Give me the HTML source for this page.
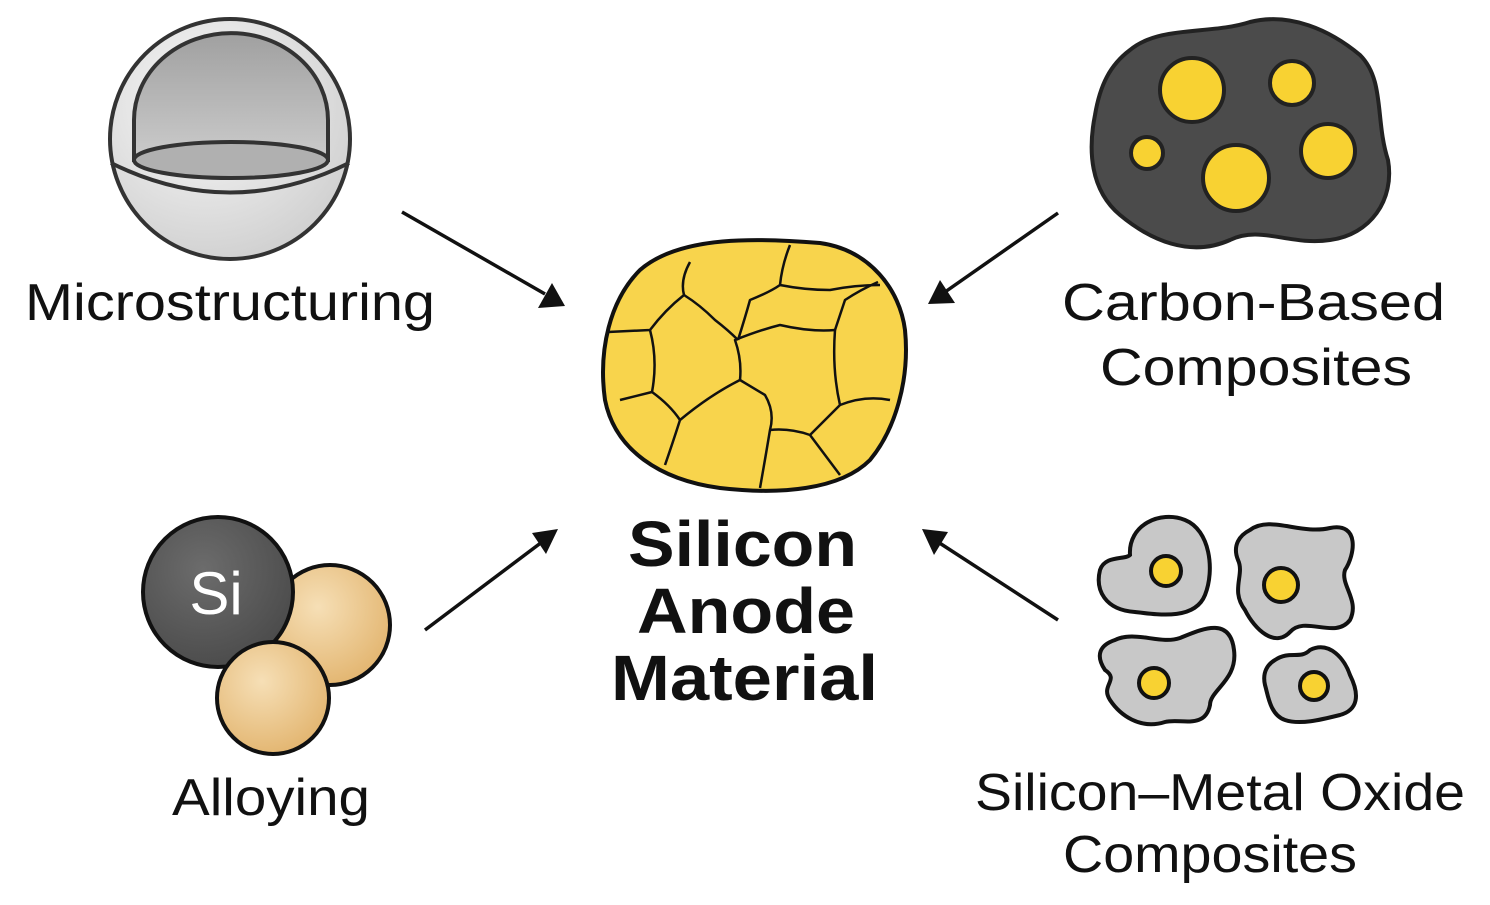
<!DOCTYPE html>
<html><head><meta charset="utf-8"><style>
html,body{margin:0;padding:0;background:#fff}
svg{display:block}
text{font-family:"Liberation Sans",sans-serif;fill:#111}
</style></head><body>
<svg width="1490" height="905" viewBox="0 0 1490 905" xmlns="http://www.w3.org/2000/svg">
<defs>
<radialGradient id="sph" cx="0.4" cy="0.35" r="0.7"><stop offset="0" stop-color="#fafafa"/><stop offset="1" stop-color="#cfcfcf"/></radialGradient>
<linearGradient id="dome" x1="0" y1="0" x2="0" y2="1"><stop offset="0" stop-color="#a0a0a0"/><stop offset="1" stop-color="#cbcbcb"/></linearGradient>
<radialGradient id="tan" cx="0.4" cy="0.35" r="0.7"><stop offset="0" stop-color="#f6dfb6"/><stop offset="1" stop-color="#e2b46e"/></radialGradient>
<radialGradient id="si" cx="0.4" cy="0.35" r="0.7"><stop offset="0" stop-color="#6c6c6c"/><stop offset="1" stop-color="#4a4a4a"/></radialGradient>
</defs>

<!-- sphere -->
<circle cx="230" cy="139" r="120" fill="url(#sph)" stroke="#333" stroke-width="4"/>
<path d="M111,163 Q230,222 349,163" fill="none" stroke="#333" stroke-width="4"/>
<path d="M134,160 L134,120 A96,86 0 0 1 328,120 L328,160 Z" fill="url(#dome)" stroke="#333" stroke-width="4"/>
<ellipse cx="231" cy="160" rx="97" ry="18" fill="#b0b0b0" stroke="#333" stroke-width="4"/>
<text x="25" y="320" font-size="52" textLength="410" lengthAdjust="spacingAndGlyphs">Microstructuring</text>

<!-- arrows -->
<g stroke="#111" stroke-width="3.5">
<line x1="402" y1="212" x2="545" y2="294"/>
<line x1="1058" y1="213" x2="945" y2="292"/>
<line x1="425" y1="630" x2="542" y2="542"/>
<line x1="1058" y1="620" x2="938" y2="542"/>
</g>
<path d="M565,306 L538,308 L552,283 Z" fill="#111"/>
<path d="M928,304 L940,280 L955,303 Z" fill="#111"/>
<path d="M558,529 L546,554 L532,533 Z" fill="#111"/>
<path d="M922,529 L948,532 L934,555 Z" fill="#111"/>

<!-- central blob -->
<path d="M640,270 C680,235 760,238 820,243 C870,250 900,290 905,330 C910,380 895,430 870,460 C840,490 780,495 720,488 C660,480 615,450 605,400 C598,350 610,300 640,270 Z" fill="#f8d44c" stroke="#111" stroke-width="4"/>
<g fill="none" stroke="#111" stroke-width="2.5" stroke-linejoin="round">
<path d="M690,262 Q680,280 684,295 Q665,310 650,330 L608,332"/>
<path d="M684,295 Q700,305 715,320 Q728,330 738,340"/>
<path d="M650,330 Q658,360 652,392 L620,400"/>
<path d="M652,392 Q670,405 680,420 Q672,445 665,465"/>
<path d="M680,420 Q710,395 740,380 L765,395 Q775,412 770,430 Q765,460 760,488"/>
<path d="M740,380 Q742,360 735,340 Q760,330 780,325 Q810,332 835,330 Q832,370 840,405 Q825,420 810,435 Q790,428 770,430"/>
<path d="M738,340 Q745,318 750,300 Q770,292 780,285 Q782,265 790,245"/>
<path d="M780,285 Q805,290 830,290 Q855,285 880,285"/>
<path d="M835,330 Q840,315 845,300 Q860,290 878,282"/>
<path d="M840,405 Q865,395 890,400"/>
<path d="M810,435 Q825,455 840,475"/>
</g>
<g font-size="64" font-weight="bold">
<text x="628" y="566" textLength="229" lengthAdjust="spacingAndGlyphs">Silicon</text>
<text x="637" y="633" textLength="218" lengthAdjust="spacingAndGlyphs">Anode</text>
<text x="611" y="700" textLength="267" lengthAdjust="spacingAndGlyphs">Material</text>
</g>

<!-- carbon blob -->
<path d="M1130,50 C1160,25 1210,35 1250,22 C1290,12 1330,30 1360,55 C1385,80 1375,120 1388,160 C1395,200 1370,235 1330,240 C1290,246 1260,225 1230,240 C1190,258 1150,240 1120,215 C1090,190 1088,150 1095,115 C1100,85 1110,65 1130,50 Z" fill="#4b4b4b" stroke="#222" stroke-width="4"/>
<g fill="#f8d232" stroke="#222" stroke-width="4">
<circle cx="1192" cy="90" r="32"/><circle cx="1292" cy="83" r="22"/><circle cx="1328" cy="151" r="27"/><circle cx="1236" cy="178" r="33"/><circle cx="1147" cy="153" r="16"/>
</g>
<g font-size="52"><text x="1062" y="320" textLength="383" lengthAdjust="spacingAndGlyphs">Carbon-Based</text><text x="1100" y="385" textLength="312" lengthAdjust="spacingAndGlyphs">Composites</text></g>

<!-- alloying -->
<circle cx="330" cy="625" r="60" fill="url(#tan)" stroke="#111" stroke-width="4"/>
<circle cx="218" cy="592" r="75" fill="url(#si)" stroke="#111" stroke-width="4"/>
<circle cx="273" cy="698" r="56" fill="url(#tan)" stroke="#111" stroke-width="4"/>
<text x="216" y="614" font-size="60" style="fill:#fff" text-anchor="middle">Si</text>
<text x="172" y="815" font-size="52" textLength="198" lengthAdjust="spacingAndGlyphs">Alloying</text>

<!-- oxide blobs -->
<g fill="#c8c8c8" stroke="#111" stroke-width="4">
<path d="M1130,555 C1128,525 1160,510 1185,520 C1210,530 1215,570 1205,595 C1195,620 1160,615 1135,612 C1105,610 1095,590 1100,570 C1105,555 1125,560 1130,555 Z"/>
<path d="M1250,530 C1270,515 1300,535 1330,528 C1360,522 1355,555 1345,570 C1340,585 1360,600 1350,620 C1335,640 1305,615 1290,632 C1275,648 1255,630 1245,610 C1230,590 1245,575 1238,560 C1232,545 1240,535 1250,530 Z"/>
<path d="M1115,640 C1135,630 1160,645 1180,638 C1200,630 1230,615 1234,650 C1238,680 1210,690 1210,705 C1205,730 1180,718 1165,722 C1140,730 1120,715 1110,700 C1100,685 1120,680 1105,670 C1095,655 1100,645 1115,640 Z"/>
<path d="M1275,660 C1290,650 1300,660 1310,650 C1330,640 1345,660 1350,675 C1360,695 1358,710 1340,715 C1320,720 1300,725 1285,720 C1270,715 1268,695 1265,685 C1262,672 1268,664 1275,660 Z"/>
</g>
<g fill="#f8d232" stroke="#111" stroke-width="4">
<circle cx="1166" cy="571" r="15"/><circle cx="1281" cy="585" r="17"/><circle cx="1154" cy="683" r="15"/><circle cx="1314" cy="686" r="14"/>
</g>
<g font-size="52"><text x="975" y="810" textLength="490" lengthAdjust="spacingAndGlyphs">Silicon–Metal Oxide</text><text x="1063" y="872" textLength="294" lengthAdjust="spacingAndGlyphs">Composites</text></g>
</svg>
</body></html>
